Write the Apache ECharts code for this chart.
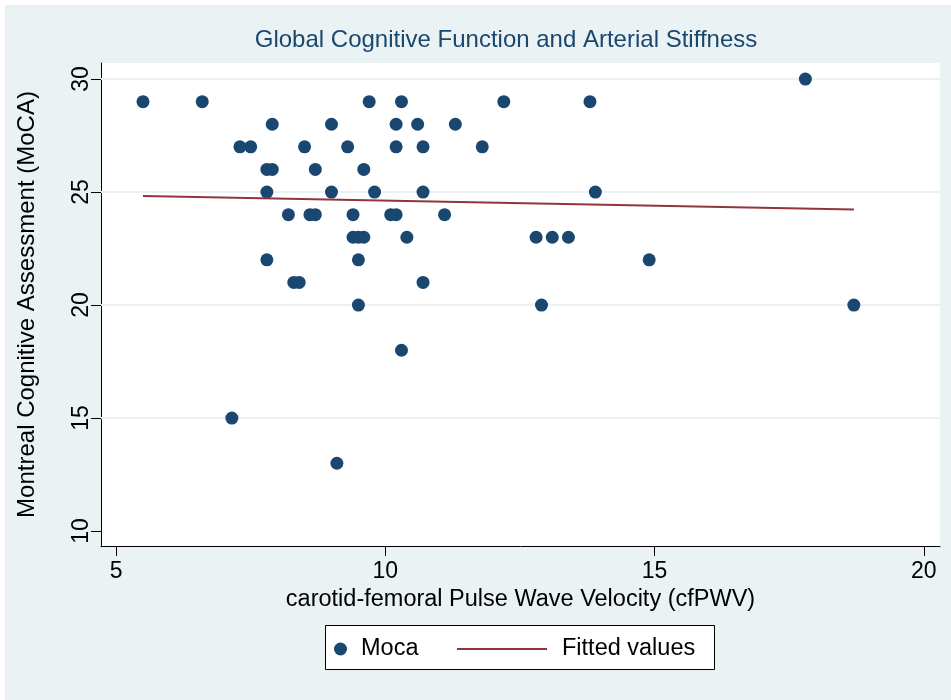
<!DOCTYPE html>
<html><head><meta charset="utf-8">
<script src="https://cdn.jsdelivr.net/npm/echarts@6/dist/echarts.min.js"></script>
<style>html,body{margin:0;padding:0;background:#fff}#c{width:951px;height:700px}</style>
</head><body><div id="c"></div>
<script>
// carotid-femoral PWV (x) and MoCA score (y)
const pwv = [
  17.8,
  5.5, 6.6, 9.7, 10.3, 12.2, 13.8,
  7.9, 9.0, 10.2, 10.6, 11.3,
  7.3, 7.5, 8.5, 9.3, 10.2, 10.7, 11.8,
  7.8, 7.9, 8.7, 9.6,
  7.8, 9.0, 9.8, 10.7, 13.9,
  8.2, 8.6, 8.7, 9.4, 10.1, 10.2, 11.1,
  9.4, 9.5, 9.6, 10.4, 12.8, 13.1, 13.4,
  7.8, 9.5, 14.9,
  8.3, 8.4, 10.7,
  9.5, 12.9, 18.7,
  10.3,
  7.15,
  9.1
];
const moca = [
  30,
  29, 29, 29, 29, 29, 29,
  28, 28, 28, 28, 28,
  27, 27, 27, 27, 27, 27, 27,
  26, 26, 26, 26,
  25, 25, 25, 25, 25,
  24, 24, 24, 24, 24, 24, 24,
  23, 23, 23, 23, 23, 23, 23,
  22, 22, 22,
  21, 21, 21,
  20, 20, 20,
  18,
  15,
  13
];
const fitX = [5.5, 18.7];
const fitY = [24.82, 24.23];
const xTicks = [5, 10, 15, 20];
const yTicks = [10, 15, 20, 25, 30];
const yGrid = [15, 20, 25, 30];

const font = 'Liberation Sans, Arial, sans-serif';
const chart = echarts.init(document.getElementById('c'), null, {renderer: 'canvas'});
const option = {
  backgroundColor: '#EAF2F3',
  animation: false,
  graphic: [
    {type: 'rect', shape: {x: 0, y: 0, width: 951, height: 5}, style: {fill: '#fff'}, silent: true},
    {type: 'rect', shape: {x: 0, y: 0, width: 5, height: 700}, style: {fill: '#fff'}, silent: true},
    {type: 'rect', shape: {x: 325.5, y: 625.5, width: 389, height: 44}, style: {fill: '#fff', stroke: '#000', lineWidth: 1}, silent: true}
  ],
  title: {
    text: 'Global Cognitive Function and Arterial Stiffness',
    left: 501, top: 23, textAlign: 'center',
    textStyle: {fontFamily: font, fontSize: 24, fontWeight: 'normal', color: '#1A476F'}
  },
  grid: {left: 101, top: 63, width: 839, height: 483, show: true, backgroundColor: '#fff', borderWidth: 0},
  legend: [
    {data: [{name: 'Moca', icon: 'circle'}], left: 334, top: 637, padding: 0, z: 10,
     itemWidth: 13, itemHeight: 13,
     textStyle: {fontFamily: font, fontSize: 23.5, color: '#000', padding: [0, 0, 0, 9]}},
    {data: [{name: 'Fitted values', icon: 'rect'}], left: 457, top: 637, padding: 0, z: 10,
     itemWidth: 90, itemHeight: 2,
     textStyle: {fontFamily: font, fontSize: 23.5, color: '#000', padding: [0, 0, 0, 10]}}
  ],
  xAxis: {
    type: 'value', min: 4.72, max: 20.3,
    name: 'carotid-femoral Pulse Wave Velocity (cfPWV)', nameLocation: 'middle', nameGap: 42,
    nameTextStyle: {fontFamily: font, fontSize: 23.5, color: '#000', width: 800, overflow: 'none'},
    axisLine: {show: true, onZero: false, lineStyle: {color: '#000', width: 1}},
    axisTick: {show: true, length: 10, customValues: xTicks, lineStyle: {color: '#000', width: 1}},
    axisLabel: {customValues: xTicks, fontFamily: font, fontSize: 23, color: '#000', margin: 14},
    splitLine: {show: false}
  },
  yAxis: {
    type: 'value', min: 9.34, max: 30.71,
    name: 'Montreal Cognitive Assessment (MoCA)', nameLocation: 'middle', nameGap: 62,
    nameTextStyle: {fontFamily: font, fontSize: 24, color: '#000', width: 800, overflow: 'none'},
    nameTruncate: {maxWidth: 800},
    axisLine: {show: true, onZero: false, lineStyle: {color: '#000', width: 1}},
    axisTick: {show: true, length: 10, customValues: yTicks, lineStyle: {color: '#000', width: 1}},
    axisLabel: {customValues: yTicks, rotate: 90, fontFamily: font, fontSize: 23, color: '#000', margin: 8},
    splitLine: {show: false}
  },
  series: [
    {name: 'Moca', type: 'scatter', symbol: 'circle', symbolSize: 13,
     itemStyle: {color: '#1A476F', opacity: 1},
     data: pwv.map((v, i) => [v, moca[i]]), z: 3,
     markLine: {
       silent: true, z: 1, symbol: 'none', animation: false,
       label: {show: false},
       lineStyle: {color: '#EAF2F3', width: 2, type: 'solid'},
       emphasis: {disabled: true},
       data: yGrid.map(v => ({yAxis: v}))
     }},
    {name: 'Fitted values', type: 'line', showSymbol: false, symbol: 'none',
     lineStyle: {color: '#90353B', width: 2}, itemStyle: {color: '#90353B'},
     data: fitX.map((v, i) => [v, fitY[i]]), z: 4}
  ]
};
chart.setOption(option);
</script>
</body></html>
